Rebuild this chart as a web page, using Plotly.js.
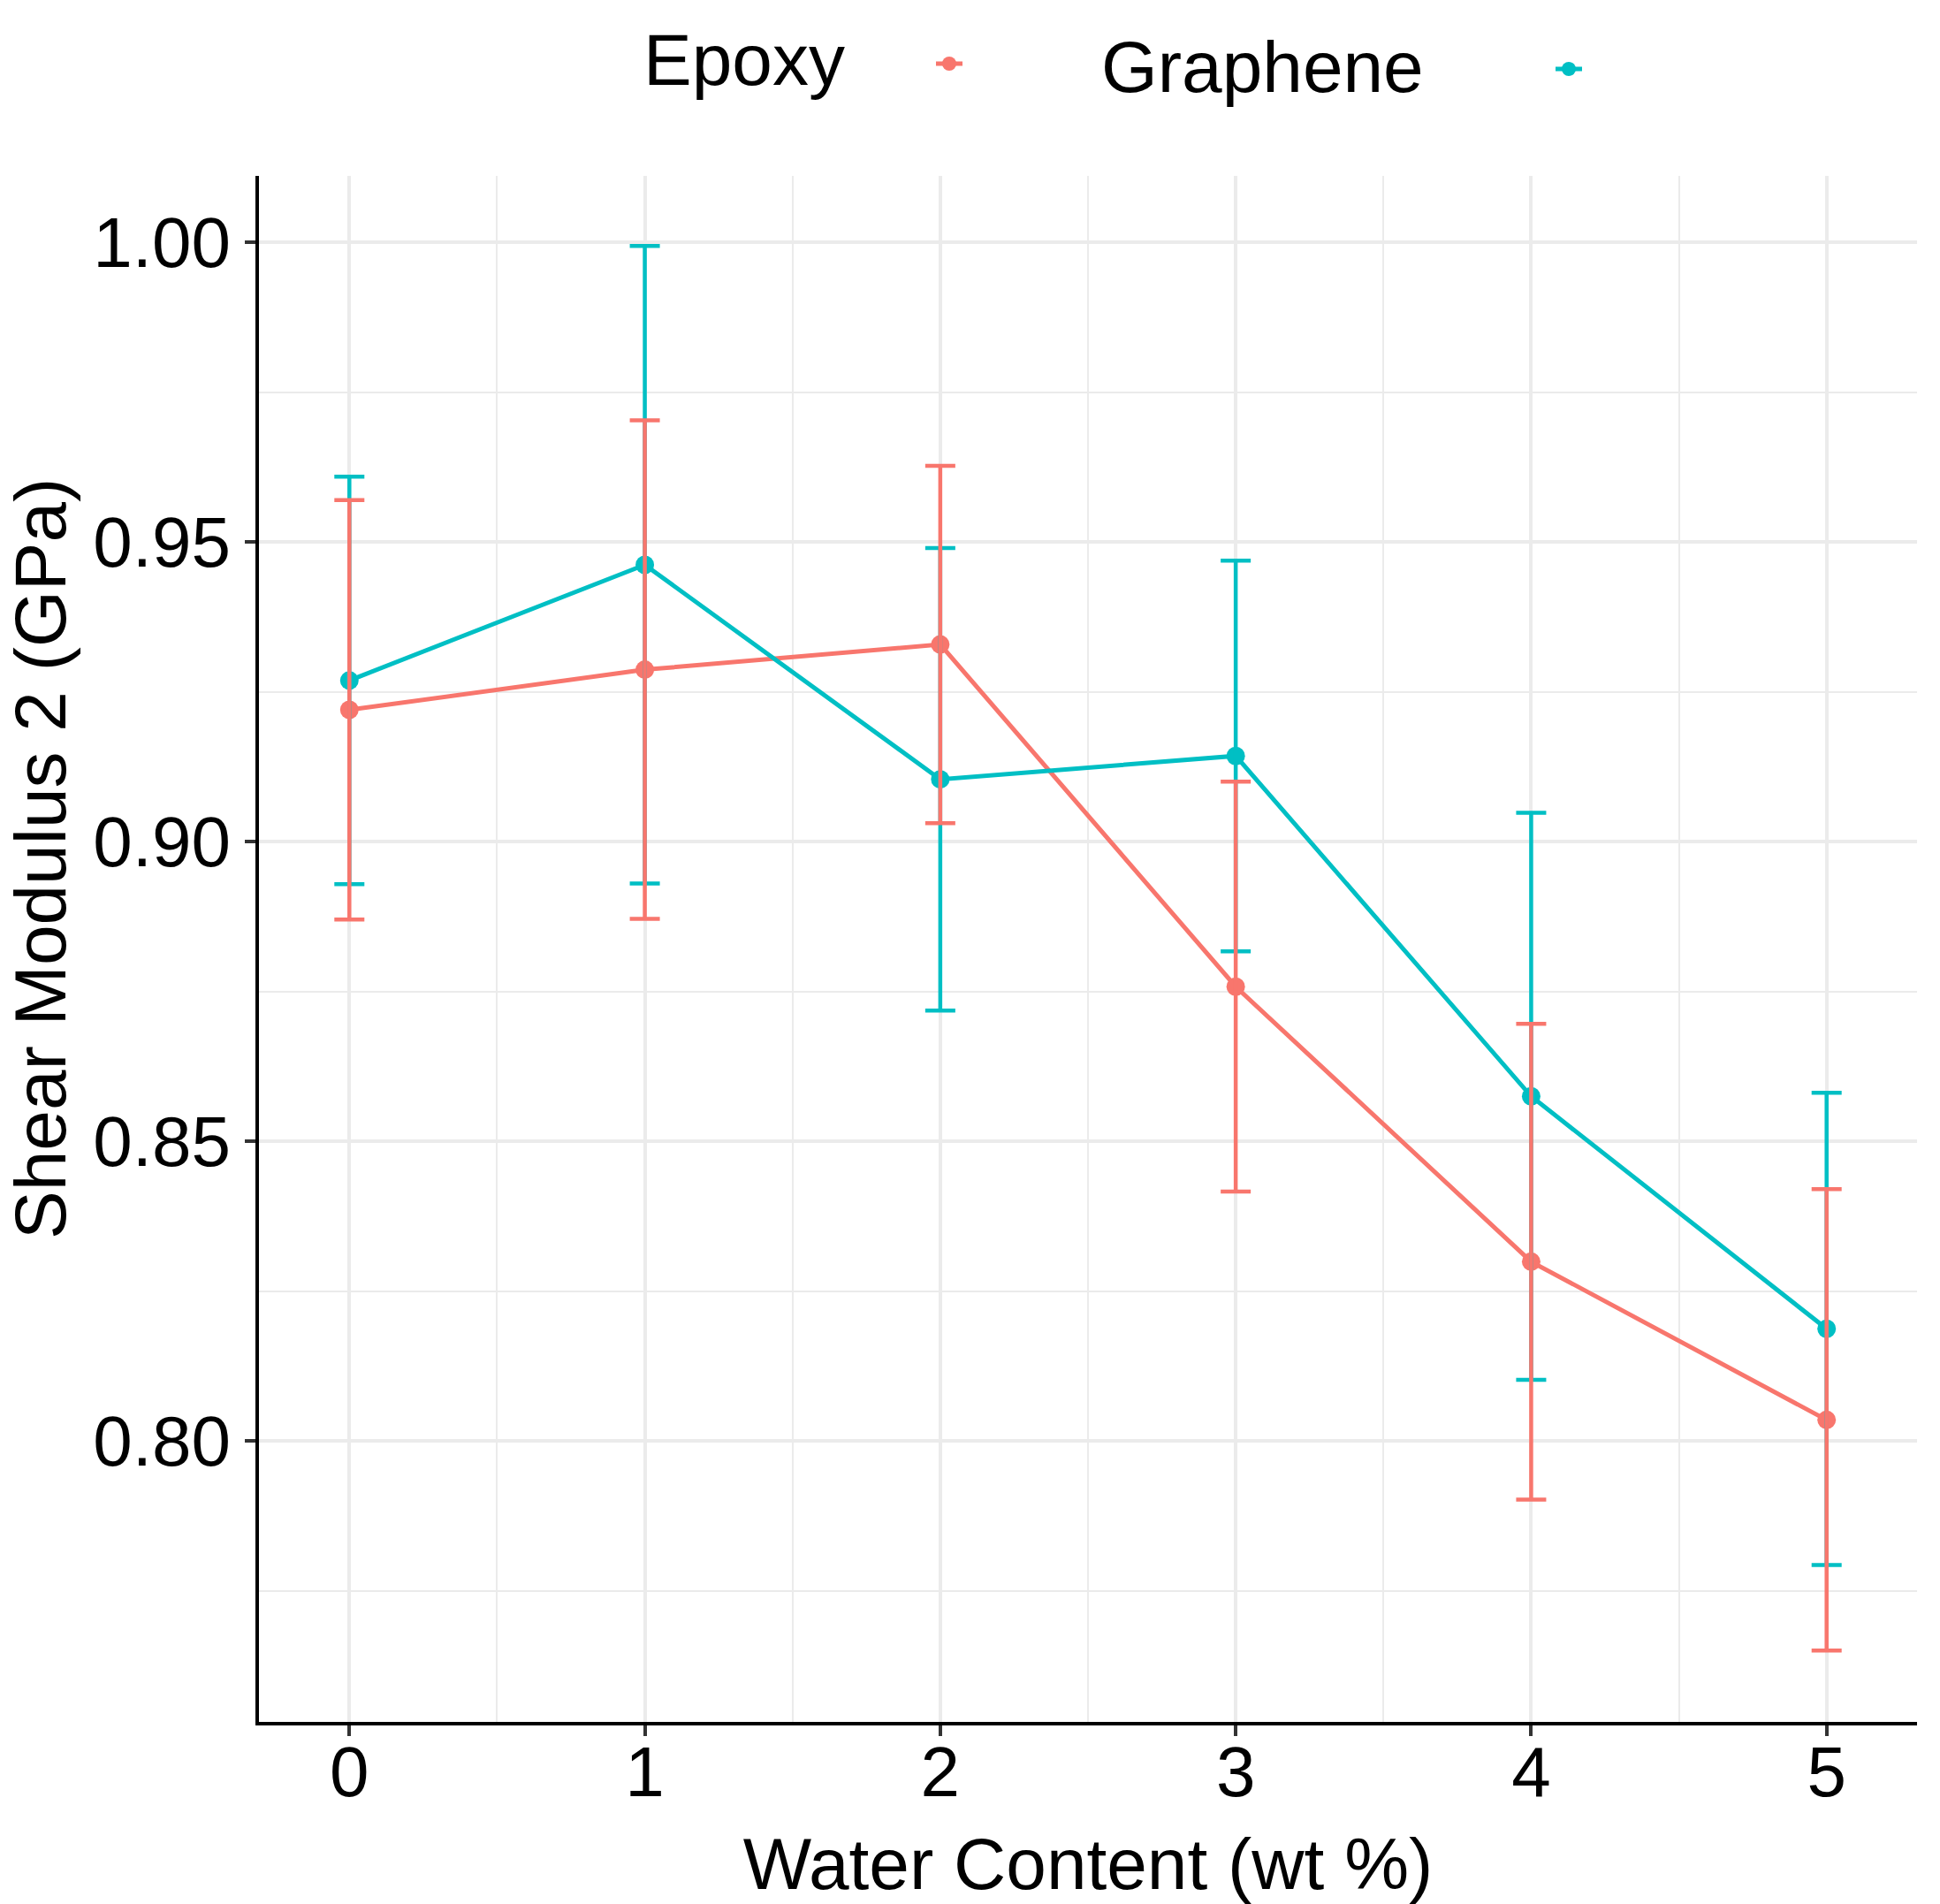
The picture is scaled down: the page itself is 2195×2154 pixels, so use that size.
<!DOCTYPE html>
<html>
<head>
<meta charset="utf-8">
<script src="https://cdn.plot.ly/plotly-3.0.1.min.js"></script>
<style>
  html, body { margin: 0; padding: 0; background: #ffffff; }
  #chart { width: 2195px; height: 2154px; }
</style>
</head>
<body>
<div id="chart"></div>
<script>
// ---- data ----
const waterContent = [0, 1, 2, 3, 4, 5];
const epoxyMean = [0.9220, 0.9287, 0.9329, 0.8758, 0.8299, 0.8035];
const epoxyErr  = [0.0350, 0.0416, 0.0298, 0.0342, 0.0397, 0.0385];
const grapheneMean = [0.9269, 0.9462, 0.9104, 0.9143, 0.8575, 0.8187];
const grapheneErr  = [0.0340, 0.0532, 0.0386, 0.0326, 0.0473, 0.0394];
const seriesNames = ['Epoxy', 'Graphene'];
const xTickVals = [0, 1, 2, 3, 4, 5];
const yTickVals = [0.80, 0.85, 0.90, 0.95, 1.00];
const yTickText = ['0.80', '0.85', '0.90', '0.95', '1.00'];
const xTitle = 'Water Content (wt %)';
const yTitle = 'Shear Modulus 2 (GPa)';

const RED = '#F8766D';
const TEAL = '#00BFC4';
const FONT = 'Liberation Sans, Arial, Helvetica, sans-serif';

const L = 293, R = 26, T = 199, B = 206;
const W = 2195, H = 2154;
const pw = W - L - R, ph = H - T - B;
const px2x = p => (p - L) / pw;
const px2y = p => (H - B - p) / ph;

const lineTrace = (y, color, leg) => ({
  x: waterContent, y: y, type: 'scatter', mode: 'lines+markers',
  name: ' ', showlegend: true, legend: leg,
  line: { color: color, width: 5 },
  marker: { color: color, size: 21 },
  hoverinfo: 'x+y'
});
const errTrace = (y, err, color) => ({
  x: waterContent, y: y, type: 'scatter', mode: 'markers',
  showlegend: false,
  marker: { color: color, size: 1, opacity: 0 },
  error_y: { type: 'data', array: err, visible: true, color: color, thickness: 4.5, width: 17 },
  hoverinfo: 'skip'
});

const data = [
  lineTrace(epoxyMean, RED, 'legend'),
  lineTrace(grapheneMean, TEAL, 'legend2'),
  errTrace(grapheneMean, grapheneErr, TEAL),
  errTrace(epoxyMean, epoxyErr, RED)
];

const legendBase = (xpx, ypx) => ({
  orientation: 'h', x: px2x(xpx), xanchor: 'left', y: px2y(ypx), yanchor: 'middle',
  font: { size: 20, family: FONT }, bgcolor: 'rgba(0,0,0,0)', itemwidth: 30
});

const layout = {
  width: W, height: H,
  margin: { l: L, r: R, t: T, b: B, pad: 0 },
  paper_bgcolor: '#ffffff', plot_bgcolor: '#ffffff',
  font: { family: FONT, color: '#000000', size: 80 },
  showlegend: true,
  legend: legendBase(1054, 72),
  legend2: legendBase(1755, 78),
  xaxis: {
    range: [-0.306, 5.306], tickvals: xTickVals, ticktext: xTickVals.map(String),
    showline: true, linecolor: '#000000', linewidth: 4, mirror: false,
    ticks: 'outside', ticklen: 12, tickwidth: 4, tickcolor: '#333333',
    ticklabelstandoff: -28,
    tickfont: { size: 80, color: '#000000', family: FONT },
    showgrid: true, gridcolor: '#EBEBEB', gridwidth: 4, zeroline: false,
    minor: { dtick: 0.5, tick0: 0, showgrid: true, gridcolor: '#EBEBEB', gridwidth: 2, ticks: '' },
    title: { text: xTitle, font: { size: 82, color: '#000000', family: FONT }, standoff: 40 }
  },
  yaxis: {
    range: [0.7531, 1.0111], tickvals: yTickVals, ticktext: yTickText,
    showline: true, linecolor: '#000000', linewidth: 4, mirror: false,
    ticks: 'outside', ticklen: 12, tickwidth: 4, tickcolor: '#333333',
    tickfont: { size: 80, color: '#000000', family: FONT },
    showgrid: true, gridcolor: '#EBEBEB', gridwidth: 4, zeroline: false,
    minor: { dtick: 0.025, tick0: 0.775, showgrid: true, gridcolor: '#EBEBEB', gridwidth: 2, ticks: '' }
  },
  annotations: [
    { text: yTitle, xref: 'paper', yref: 'paper', x: px2x(45), y: px2y(972),
      xanchor: 'center', yanchor: 'middle', textangle: -90, showarrow: false,
      font: { size: 82, color: '#000000', family: FONT } },
    { text: seriesNames[0], xref: 'paper', yref: 'paper', x: px2x(842), y: px2y(67),
      xanchor: 'center', yanchor: 'middle', showarrow: false,
      font: { size: 82, color: '#000000', family: FONT } },
    { text: seriesNames[1], xref: 'paper', yref: 'paper', x: px2x(1428), y: px2y(75),
      xanchor: 'center', yanchor: 'middle', showarrow: false,
      font: { size: 82, color: '#000000', family: FONT } }
  ]
};

Plotly.newPlot('chart', data, layout, { displayModeBar: false, staticPlot: true });
</script>
</body>
</html>
